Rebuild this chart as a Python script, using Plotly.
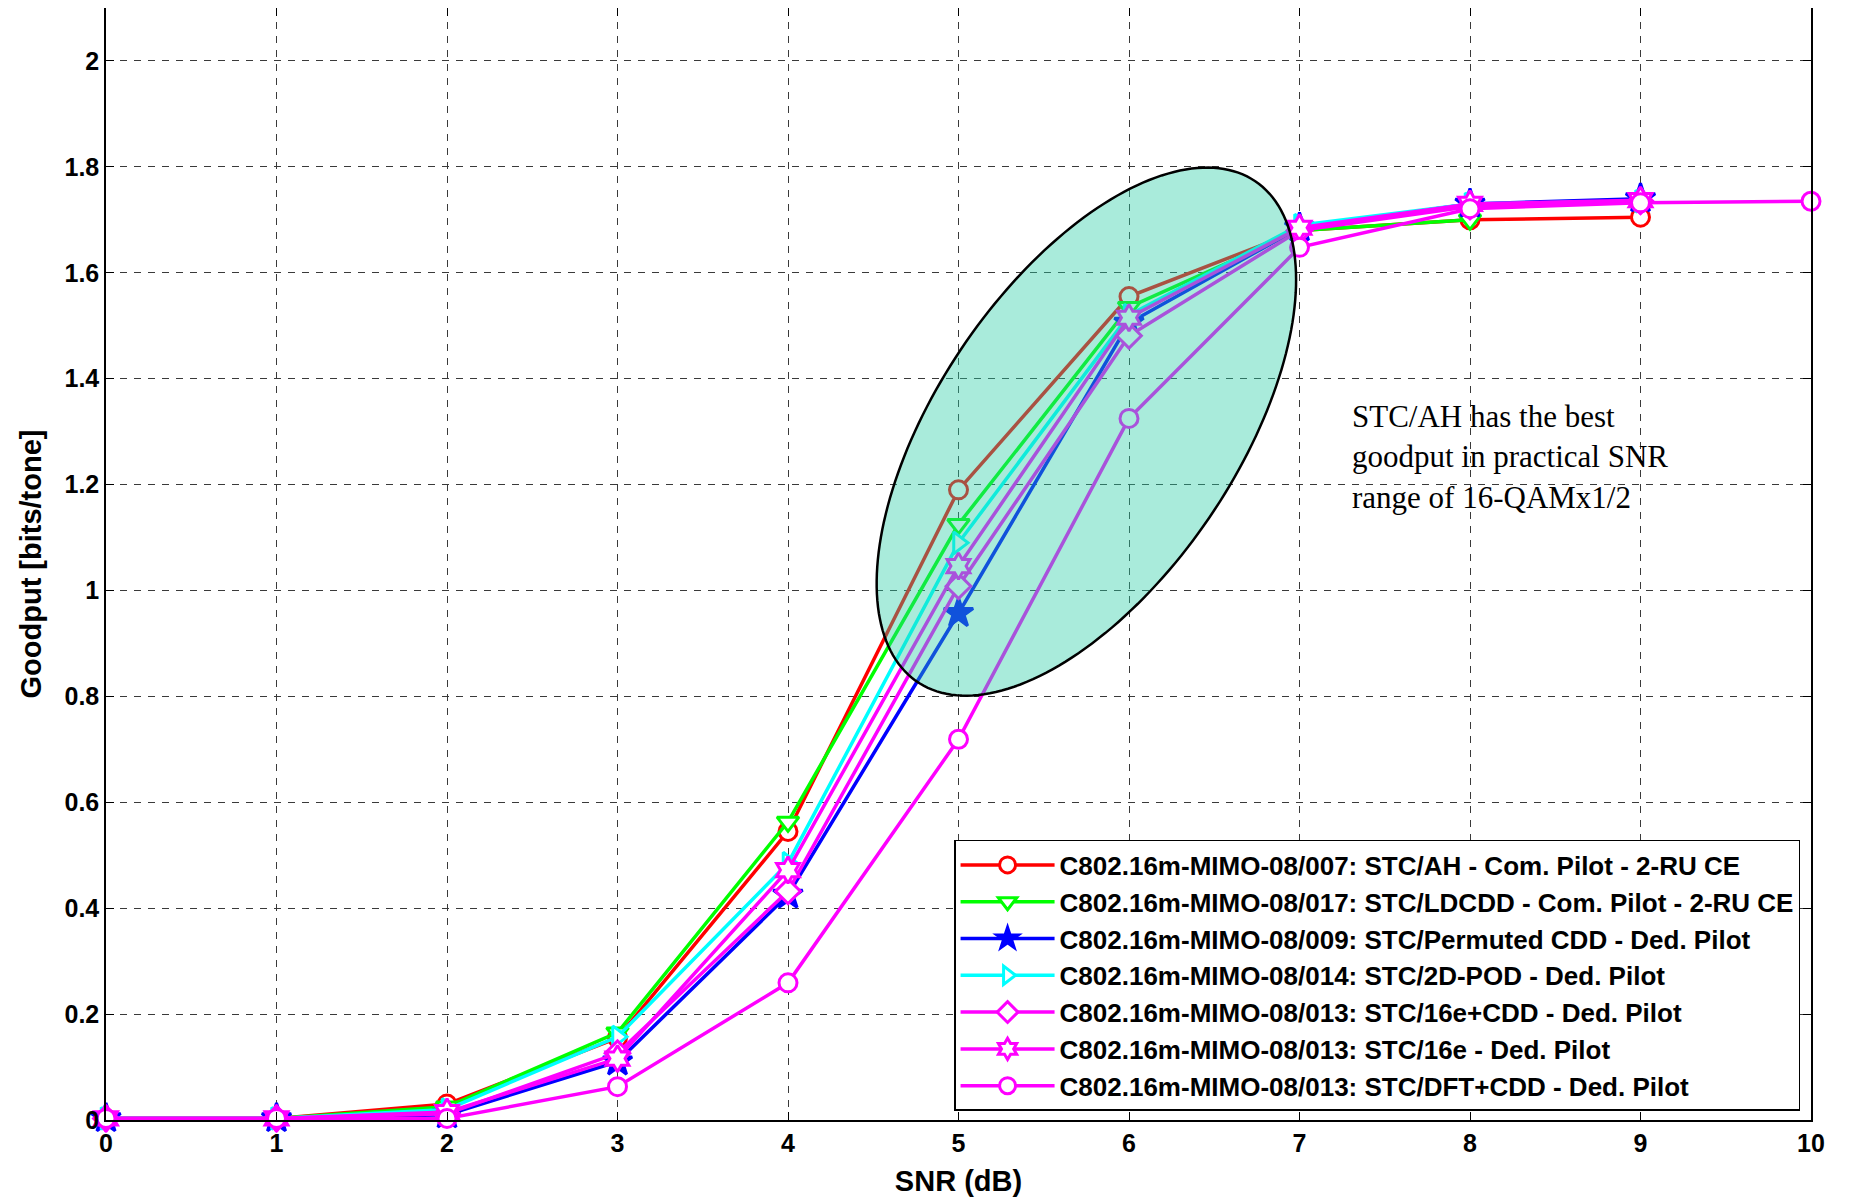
import numpy as np
import plotly.graph_objects as go

# ---------------- data ----------------
snr = [0, 1, 2, 3, 4, 5, 6, 7, 8, 9, 10]

names = [
    "C802.16m-MIMO-08/007: STC/AH - Com. Pilot - 2-RU CE",
    "C802.16m-MIMO-08/017: STC/LDCDD - Com. Pilot - 2-RU CE",
    "C802.16m-MIMO-08/009: STC/Permuted CDD - Ded. Pilot",
    "C802.16m-MIMO-08/014: STC/2D-POD - Ded. Pilot",
    "C802.16m-MIMO-08/013: STC/16e+CDD - Ded. Pilot",
    "C802.16m-MIMO-08/013: STC/16e - Ded. Pilot",
    "C802.16m-MIMO-08/013: STC/DFT+CDD - Ded. Pilot",
]

stc_ah      = [0.003, 0.003, 0.030, 0.155, 0.545, 1.190, 1.555, 1.680, 1.700, 1.705]
stc_ldcdd   = [0.003, 0.003, 0.025, 0.165, 0.563, 1.125, 1.535, 1.680, 1.700]
stc_permcdd = [0.003, 0.003, 0.010, 0.110, 0.425, 0.957, 1.505, 1.685, 1.730, 1.740]
stc_2dpod   = [0.003, 0.003, 0.020, 0.157, 0.485, 1.090, 1.520, 1.690, 1.730, 1.735]
stc_16ecdd  = [0.003, 0.003, 0.012, 0.126, 0.432, 1.008, 1.481, 1.680, 1.725, 1.735]
stc_16e     = [0.003, 0.003, 0.015, 0.116, 0.472, 1.046, 1.515, 1.685, 1.730, 1.737]
stc_dftcdd  = [0.003, 0.003, 0.003, 0.063, 0.259, 0.719, 1.325, 1.648, 1.721, 1.732, 1.735]

series = [stc_ah, stc_ldcdd, stc_permcdd, stc_2dpod, stc_16ecdd, stc_16e, stc_dftcdd]
colors = ["#ff0000", "#00ff00", "#0000ff", "#00ffff", "#ff00ff", "#ff00ff", "#ff00ff"]
symbols = ["circle", "triangle-down", "star", "triangle-right", "diamond", "hexagram", "circle"]
filled = [False, False, True, False, False, False, False]

x_ticks = list(range(0, 11))
y_ticks = [0, 0.2, 0.4, 0.6, 0.8, 1, 1.2, 1.4, 1.6, 1.8, 2]

note_text = "STC/AH has the best<br>goodput in practical SNR<br>range of 16-QAMx1/2"

# ---------------- figure ----------------
# page body has an 8px default margin, so the figure is laid out accordingly
W, H = 1842, 1193
ML, MR, MT, MB = 98, 39, 0, 81
XR = [0, 10]
YR = [0, 2.1]

fig = go.Figure()

sizes = [18, 19, 22, 19, 19, 20, 18]
for i, (name, vals, c, sym, fl, sz) in enumerate(zip(names, series, colors, symbols, filled, sizes)):
    fig.add_trace(go.Scatter(
        x=snr[:len(vals)], y=vals, name=name, mode="lines+markers",
        legendgroup=f"g{i}", cliponaxis=False,
        line=dict(color=c, width=3.5),
        marker=dict(symbol=sym, size=sz, color=(c if fl else "white"),
                    line=dict(color=c, width=3)),
    ))

# ellipse highlighting region (rotated ellipse defined in pixel space)
pw = W - ML - MR
ph = H - MT - MB
px_per_x = pw / (XR[1] - XR[0])
px_per_y = ph / (YR[1] - YR[0])
cx, cy = 5.75, 1.30
a_px, b_px, theta = 302, 150, np.deg2rad(56)
t = np.linspace(0, 2 * np.pi, 200)
dx = a_px * np.cos(t) * np.cos(theta) - b_px * np.sin(t) * np.sin(theta)
dy = a_px * np.cos(t) * np.sin(theta) + b_px * np.sin(t) * np.cos(theta)
ex = cx + dx / px_per_x
ey = cy + dy / px_per_y
path = "M " + " L ".join(f"{xx:.4f},{yy:.4f}" for xx, yy in zip(ex, ey)) + " Z"
fig.add_shape(type="path", path=path, xref="x", yref="y", layer="above",
              fillcolor="rgba(40,205,165,0.40)", line=dict(color="black", width=2.5))

fig.add_annotation(x=7.296, y=1.253, xref="x", yref="y", text=note_text,
                   showarrow=False, xanchor="left", yanchor="middle", align="left",
                   font=dict(family="Liberation Serif, Times New Roman, serif", size=31, color="black"))

axis_common = dict(
    showline=True, linecolor="black", linewidth=1.5, mirror="ticks",
    ticks="inside", ticklen=8, tickwidth=1, tickcolor="black",
    showgrid=True, gridcolor="#3a3a3a", gridwidth=1, griddash="7px,7px",
    zeroline=False, automargin=False,
    tickfont=dict(family="Liberation Sans, Arial, sans-serif", size=25, color="black", weight="bold"),
)

fig.update_xaxes(range=XR, tickvals=x_ticks, **axis_common,
                 title=dict(text="<b>SNR (dB)</b>", standoff=15,
                            font=dict(family="Liberation Sans, Arial, sans-serif", size=29, color="black")))
fig.update_yaxes(range=YR, tickvals=y_ticks, **axis_common,
                 title=dict(text="<b>Goodput [bits/tone]</b>", standoff=14,
                            font=dict(family="Liberation Sans, Arial, sans-serif", size=29, color="black")))

fig.update_layout(
    width=W, height=H,
    margin=dict(l=ML, r=MR, t=MT, b=MB, pad=0, autoexpand=False),
    paper_bgcolor="white", plot_bgcolor="white",
    showlegend=True,
    legend=dict(x=0.4974, y=0.2518, xanchor="left", yanchor="top",
                bgcolor="white", bordercolor="black", borderwidth=1.5,
                font=dict(family="Liberation Sans, Arial, sans-serif", size=26, color="black", weight="bold"),
                traceorder="grouped", tracegroupgap=0, itemwidth=94),
)

fig.write_html("out.html")
